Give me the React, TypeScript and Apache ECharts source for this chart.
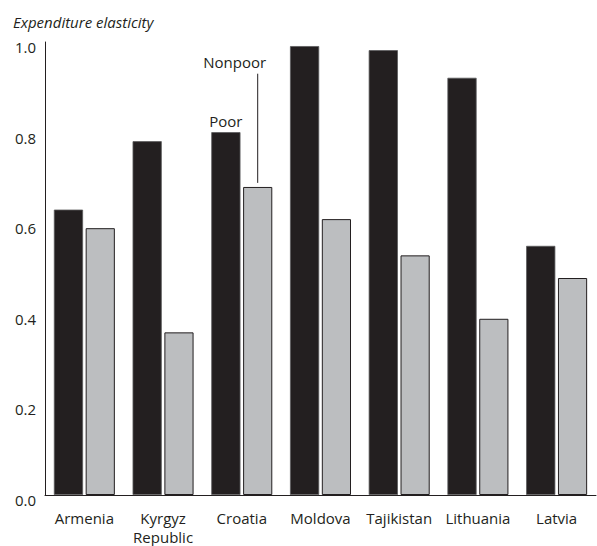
import React, { useEffect, useRef } from "react";
import * as echarts from "echarts";

const categories = ["Armenia", "Kyrgyz\nRepublic", "Croatia", "Moldova", "Tajikistan", "Lithuania", "Latvia"];
const poorValues = [0.63, 0.781, 0.801, 0.991, 0.982, 0.921, 0.55];
const nonpoorValues = [0.589, 0.359, 0.68, 0.609, 0.529, 0.389, 0.479];
const yTicks = { min: 0, max: 1.0, interval: 0.2 };
const poorLabelIndex = 2;
// annotation: [category index, line bottom value, line top value, text]
const nonpoorAnnotation = [[2, 0.689, 0.93, "Nonpoor"]];

const FONT = "'Open Sans', 'Noto Sans', sans-serif";
const INK = "#231f20";
const GRAY = "#bcbec0";
const CAT_GAP = 0.225;
const BAR_GAP = 0.09;

export default function App() {
  const ref = useRef<HTMLDivElement>(null);
  useEffect(() => {
    if (!ref.current) return;
    const chart = echarts.init(ref.current, null, { renderer: "svg" });
    chart.setOption({
      animation: false,
      backgroundColor: "#ffffff",
      textStyle: { fontFamily: FONT },
      title: {
        text: "Expenditure elasticity",
        left: 8,
        top: 9,
        textStyle: { fontFamily: FONT, fontStyle: "italic", fontWeight: "normal", fontSize: 15, color: INK },
      },
      grid: { left: 45, right: 1, top: 42, bottom: 46, containLabel: false },
      xAxis: {
        type: "category",
        data: categories,
        axisLine: { show: true, lineStyle: { color: INK, width: 1 } },
        axisTick: { show: false },
        axisLabel: { color: INK, fontSize: 15, lineHeight: 19, margin: 13, fontFamily: FONT, interval: 0 },
      },
      yAxis: {
        type: "value",
        min: yTicks.min,
        max: yTicks.max,
        interval: yTicks.interval,
        axisLine: { show: true, lineStyle: { color: INK, width: 1 } },
        axisTick: { show: false },
        splitLine: { show: false },
        axisLabel: {
          color: INK,
          fontSize: 15,
          fontFamily: FONT,
          margin: 9,
          verticalAlign: "top",
          lineHeight: 10,
          formatter: (v: number) => v.toFixed(1),
        },
      },
      series: [
        {
          name: "Poor",
          type: "bar",
          barCategoryGap: CAT_GAP * 100 + "%",
          barGap: BAR_GAP * 100 + "%",
          itemStyle: { color: INK, borderColor: "#5a5a5c", borderWidth: 0.8 },
          data: poorValues.map((v, i) =>
            i === poorLabelIndex
              ? {
                  value: v,
                  label: {
                    show: true,
                    position: "top",
                    distance: 4,
                    formatter: "Poor",
                    color: INK,
                    fontSize: 15,
                    fontFamily: FONT,
                  },
                }
              : v
          ),
        },
        {
          name: "Nonpoor",
          type: "bar",
          barCategoryGap: CAT_GAP * 100 + "%",
          barGap: BAR_GAP * 100 + "%",
          itemStyle: { color: GRAY, borderColor: INK, borderWidth: 1 },
          data: nonpoorValues,
        },
        {
          type: "custom",
          silent: true,
          data: nonpoorAnnotation,
          encode: { x: 0, y: 1 },
          renderItem: (params: any, api: any) => {
            const idx = api.value(0);
            const p0 = api.coord([idx, api.value(1)]);
            const p1 = api.coord([idx, api.value(2)]);
            const band = api.size([1, 0])[0];
            const w = (band * (1 - CAT_GAP)) / (2 + BAR_GAP);
            const x = p0[0] + (w * BAR_GAP) / 2 + w / 2;
            return {
              type: "group",
              children: [
                {
                  type: "line",
                  shape: { x1: x, y1: p0[1], x2: x, y2: p1[1] },
                  style: { stroke: INK, lineWidth: 1 },
                },
                {
                  type: "text",
                  x: x - 23,
                  y: p1[1] - 12,
                  style: {
                    text: nonpoorAnnotation[0][3] as string,
                    fill: INK,
                    fontSize: 15,
                    fontFamily: FONT,
                    align: "center",
                    verticalAlign: "middle",
                  },
                },
              ],
            };
          },
        },
      ],
    });
    return () => chart.dispose();
  }, []);
  return <div ref={ref} style={{ width: 597, height: 546, position: "absolute", left: 0, top: 0 }} />;
}
